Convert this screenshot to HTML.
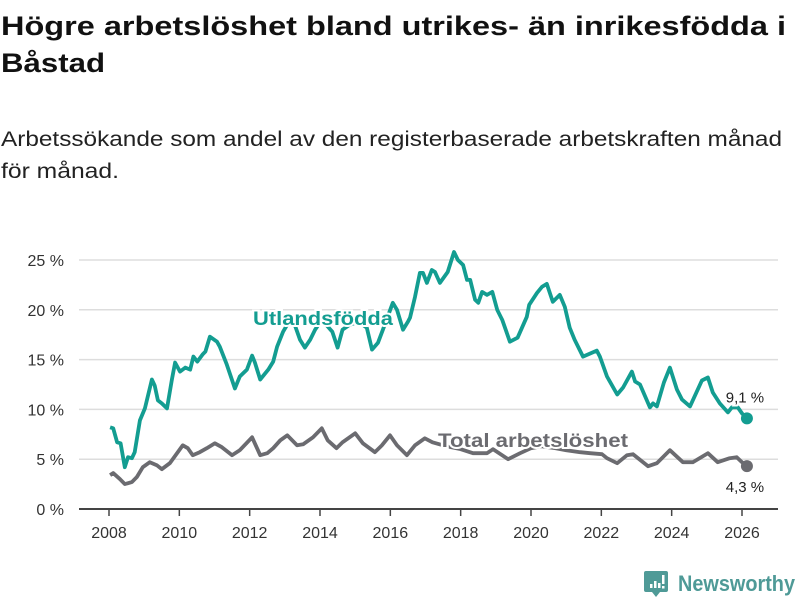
<!DOCTYPE html>
<html><head><meta charset="utf-8">
<style>
html,body{margin:0;padding:0;background:#fff;width:800px;height:600px;overflow:hidden}
svg{display:block;font-family:"Liberation Sans",sans-serif}
</style></head>
<body>
<svg id="chart" width="800" height="600" viewBox="0 0 800 600">
<text x="1" y="35" font-size="27" font-weight="bold" fill="#111" textLength="785" lengthAdjust="spacingAndGlyphs">Högre arbetslöshet bland utrikes- än inrikesfödda i</text>
<text x="1" y="72" font-size="27" font-weight="bold" fill="#111" textLength="104" lengthAdjust="spacingAndGlyphs">Båstad</text>
<text x="1" y="146" font-size="21" fill="#222" textLength="781" lengthAdjust="spacingAndGlyphs">Arbetssökande som andel av den registerbaserade arbetskraften månad</text>
<text x="1" y="178" font-size="21" fill="#222" textLength="118" lengthAdjust="spacingAndGlyphs">för månad.</text>
<g id="grid"></g>
<g id="axes"></g>
<g id="series"></g>
<g>
<path d="M646 571 h20 a2 2 0 0 1 2 2 v17 a2 2 0 0 1 -2 2 h-6 l-4 5 l-4 -5 h-6 a2 2 0 0 1 -2 -2 v-17 a2 2 0 0 1 2 -2z" fill="#4f9a97"/>
<rect x="650" y="584" width="2.5" height="4" fill="#fff"/><rect x="654" y="581" width="2.5" height="7" fill="#fff"/><rect x="658" y="583" width="2.5" height="5" fill="#fff"/><rect x="662" y="575" width="2.5" height="9" fill="#fff"/><rect x="662" y="586" width="2.5" height="2.5" fill="#fff"/>
<text x="678" y="591" font-size="22" font-weight="bold" fill="#4f9a97" textLength="117" lengthAdjust="spacingAndGlyphs">Newsworthy</text>
</g>
</svg>
<script>
const yTicks=[0,5,10,15,20,25];
const xTicks=[2008,2010,2012,2014,2016,2018,2020,2022,2024,2026];
const utlDates=[2008.03,2008.12,2008.23,2008.33,2008.45,2008.54,2008.65,2008.73,2008.88,2009.02,2009.22,2009.3,2009.39,2009.5,2009.65,2009.79,2009.88,2010.02,2010.17,2010.31,2010.4,2010.51,2010.66,2010.74,2010.87,2011.07,2011.15,2011.35,2011.58,2011.72,2011.92,2012.07,2012.15,2012.3,2012.53,2012.67,2012.78,2012.95,2013.2,2013.43,2013.57,2013.72,2013.86,2014.05,2014.35,2014.5,2014.64,2014.85,2015.1,2015.33,2015.48,2015.65,2015.79,2016.07,2016.19,2016.36,2016.5,2016.56,2016.7,2016.84,2016.93,2017.04,2017.18,2017.27,2017.41,2017.63,2017.81,2017.92,2018.07,2018.18,2018.27,2018.41,2018.5,2018.61,2018.75,2018.9,2019.04,2019.18,2019.4,2019.62,2019.88,2019.95,2020.17,2020.31,2020.45,2020.62,2020.82,2020.96,2021.1,2021.24,2021.48,2021.87,2021.96,2022.16,2022.45,2022.62,2022.87,2022.96,2023.1,2023.38,2023.47,2023.58,2023.78,2023.95,2024.15,2024.29,2024.52,2024.86,2025.03,2025.17,2025.37,2025.6,2025.71,2025.88,2026.0,2026.14];
const utlValues=[8.2,8.1,6.7,6.6,4.2,5.2,5.1,5.7,8.9,10.1,13.0,12.4,10.9,10.6,10.1,13.0,14.7,13.8,14.2,14.0,15.3,14.8,15.5,15.8,17.3,16.8,16.3,14.5,12.1,13.3,14.0,15.4,14.7,13.0,14.0,14.8,16.3,17.8,19.3,17.0,16.2,17.0,18.0,19.0,17.8,16.2,18.0,18.5,18.8,18.2,16.0,16.7,18.0,20.7,20.0,18.0,18.8,19.2,21.3,23.7,23.7,22.7,24.0,23.8,22.7,23.8,25.8,25.0,24.5,23.0,23.0,21.0,20.7,21.8,21.5,21.8,20.0,19.0,16.8,17.2,19.3,20.5,21.7,22.3,22.6,20.8,21.5,20.3,18.2,17.0,15.3,15.9,15.3,13.3,11.5,12.2,13.8,12.8,12.5,10.2,10.6,10.3,12.7,14.2,12.0,11.0,10.3,12.9,13.2,11.7,10.6,9.7,10.2,10.2,9.6,9.1];
const totDates=[2008.03,2008.12,2008.31,2008.45,2008.65,2008.79,2008.96,2009.16,2009.36,2009.5,2009.73,2010.1,2010.24,2010.38,2010.58,2010.78,2011.01,2011.21,2011.5,2011.72,2012.07,2012.3,2012.5,2012.67,2012.87,2013.07,2013.35,2013.52,2013.8,2014.05,2014.22,2014.47,2014.64,2015.0,2015.22,2015.56,2015.76,2015.99,2016.19,2016.47,2016.7,2016.98,2017.2,2017.6,2018.0,2018.35,2018.75,2018.92,2019.35,2019.69,2020.0,2020.3,2020.7,2021.0,2021.4,2021.68,2022.02,2022.16,2022.45,2022.73,2022.9,2023.33,2023.58,2023.95,2024.32,2024.6,2025.03,2025.31,2025.65,2025.85,2026.0,2026.14];
const totValues=[3.4,3.6,3.0,2.5,2.7,3.2,4.2,4.7,4.4,4.0,4.6,6.4,6.1,5.4,5.7,6.1,6.6,6.2,5.4,5.9,7.2,5.4,5.6,6.1,6.9,7.4,6.4,6.5,7.2,8.1,6.9,6.1,6.7,7.6,6.6,5.7,6.4,7.4,6.4,5.4,6.4,7.1,6.7,6.3,6.0,5.6,5.6,6.0,5.0,5.6,6.1,6.3,6.1,5.9,5.7,5.6,5.5,5.1,4.6,5.4,5.5,4.3,4.6,5.9,4.7,4.7,5.6,4.7,5.1,5.2,4.7,4.3];
const NS='http://www.w3.org/2000/svg';
const X0=2008,X1=2026,PX0=109,PX1=742;
function xs(t){return PX0+(t-X0)*(PX1-PX0)/(X1-X0);}
function ys(v){return 509-v*9.96;}
function el(tag,attrs,parent){const e=document.createElementNS(NS,tag);for(const k in attrs)e.setAttribute(k,attrs[k]);parent.appendChild(e);return e;}
const grid=document.getElementById('grid'),axes=document.getElementById('axes'),series=document.getElementById('series');
yTicks.forEach(v=>{
  if(v>0){const g=el('line',{x1:79,x2:778,y1:ys(v),y2:ys(v),stroke:'#dddddd','stroke-width':1.5},grid);
  
  }
  const t=el('text',{x:64,y:ys(v)+6,'text-anchor':'end','font-size':16,fill:'#333'},axes);
  t.textContent=v+' %';
  
  
});
const ax=el('line',{x1:79,x2:778,y1:509,y2:509,stroke:'#444','stroke-width':2},axes);


xTicks.forEach(yr=>{
  const tk=el('line',{x1:xs(yr),x2:xs(yr),y1:509,y2:516,stroke:'#444','stroke-width':1.5},axes);
  
  
  const t=el('text',{x:xs(yr),y:538,'text-anchor':'middle','font-size':16,fill:'#333'},axes);
  t.textContent=yr;
  
  
});
function path(d,v){return d.map((t,i)=>(i?'L':'M')+xs(t).toFixed(1)+' '+ys(v[i]).toFixed(1)).join(' ');}
const tot=el('path',{d:path(totDates,totValues),fill:'none',stroke:'#6b6b70','stroke-width':3.8,'stroke-linejoin':'round'},series);


const utl=el('path',{d:path(utlDates,utlValues),fill:'none',stroke:'#139d91','stroke-width':3.8,'stroke-linejoin':'round'},series);


const lu=utlDates.length-1,lt=totDates.length-1;
const d1=el('circle',{cx:xs(utlDates[lu]),cy:ys(utlValues[lu]),r:6,fill:'#139d91'},series);


const d2=el('circle',{cx:xs(totDates[lt]),cy:ys(totValues[lt]),r:6,fill:'#6b6b70'},series);


const v1=el('text',{x:xs(utlDates[lu])-2,y:ys(utlValues[lu])-16,'text-anchor':'middle','font-size':15,fill:'#222',stroke:'#fff','stroke-width':4,'paint-order':'stroke'},series);
v1.textContent=utlValues[lu].toString().replace('.',',')+' %';


const v2=el('text',{x:xs(totDates[lt])-2,y:ys(totValues[lt])+26,'text-anchor':'middle','font-size':15,fill:'#222'},series);
v2.textContent=totValues[lt].toString().replace('.',',')+' %';


const l1=el('text',{x:253,y:325,'font-size':19,'font-weight':'bold',fill:'#139d91',stroke:'#fff','stroke-width':4,'paint-order':'stroke',textLength:140,lengthAdjust:'spacingAndGlyphs'},series);
l1.textContent='Utlandsfödda';


const l2=el('text',{x:438,y:447,'font-size':19,'font-weight':'bold',fill:'#6b6b70',stroke:'#fff','stroke-width':4,'paint-order':'stroke',textLength:190,lengthAdjust:'spacingAndGlyphs'},series);
l2.textContent='Total arbetslöshet';


</script>
</body></html>
